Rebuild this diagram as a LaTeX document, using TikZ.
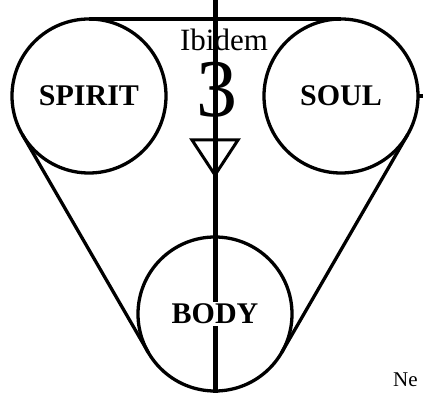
\documentclass[tikz,border=0pt]{standalone}
\usepackage{fontspec}
\setmainfont{Liberation Serif}
\usetikzlibrary{calc}

\tikzset{
    ring/.style={circle, draw, line width=3.3pt, minimum size=154pt, inner sep=0pt, outer sep=0pt,
        font=\fontsize{30}{32}\selectfont\bfseries},
    band/.style={line width=3.3pt},
    spine/.style={line width=5pt}
}

\begin{document}
\begin{tikzpicture}[x=1pt, y=1pt]
    \useasboundingbox (0,0) rectangle (423,393);

    % 1. CENTRAL AXIS (drawn first so the labels sit on top)
    \coordinate (axtop) at (215,393);
    \coordinate (axbot) at (215,0);
    \draw[spine] (axtop) -- (axbot);

    % 2. THE THREE RINGS
    \node[ring] (spirit) at (89,297) {SPIRIT};
    \node[ring] (soul) at (341,297) {SOUL};
    \node[ring] (body) at (215,79) {};
    \node[fill=white, inner sep=1.5pt, font=\fontsize{30}{32}\selectfont\bfseries] (bodytxt) at (body) {BODY};

    % 3. TANGENT BANDS
    \draw[band] (spirit.90) -- (soul.90);
    \draw[band] (spirit.210) -- (body.210);
    \draw[band] (soul.330) -- (body.330);
    \coordinate (rim) at (425,297);
    \draw[band] (soul.east) -- (rim);

    % 4. LABELS AND MARKER
    \node[anchor=base, inner sep=0pt, font=\fontsize{31}{33}\selectfont] (ibid) at (224,342) {Ibidem};
    \node[anchor=base, inner sep=0pt, font=\fontsize{82}{82}\selectfont] (three) at (217,276) {3};
    \coordinate (tip) at (215,218);
    \draw[band, line width=3pt] ($(tip)+(-23,35)$) -- ($(tip)+(23,35)$) -- (tip) -- cycle;
    \node[anchor=base west, inner sep=0pt, font=\fontsize{21}{23}\selectfont] (note) at (393,6) {Ne};

\end{tikzpicture}
\end{document}
